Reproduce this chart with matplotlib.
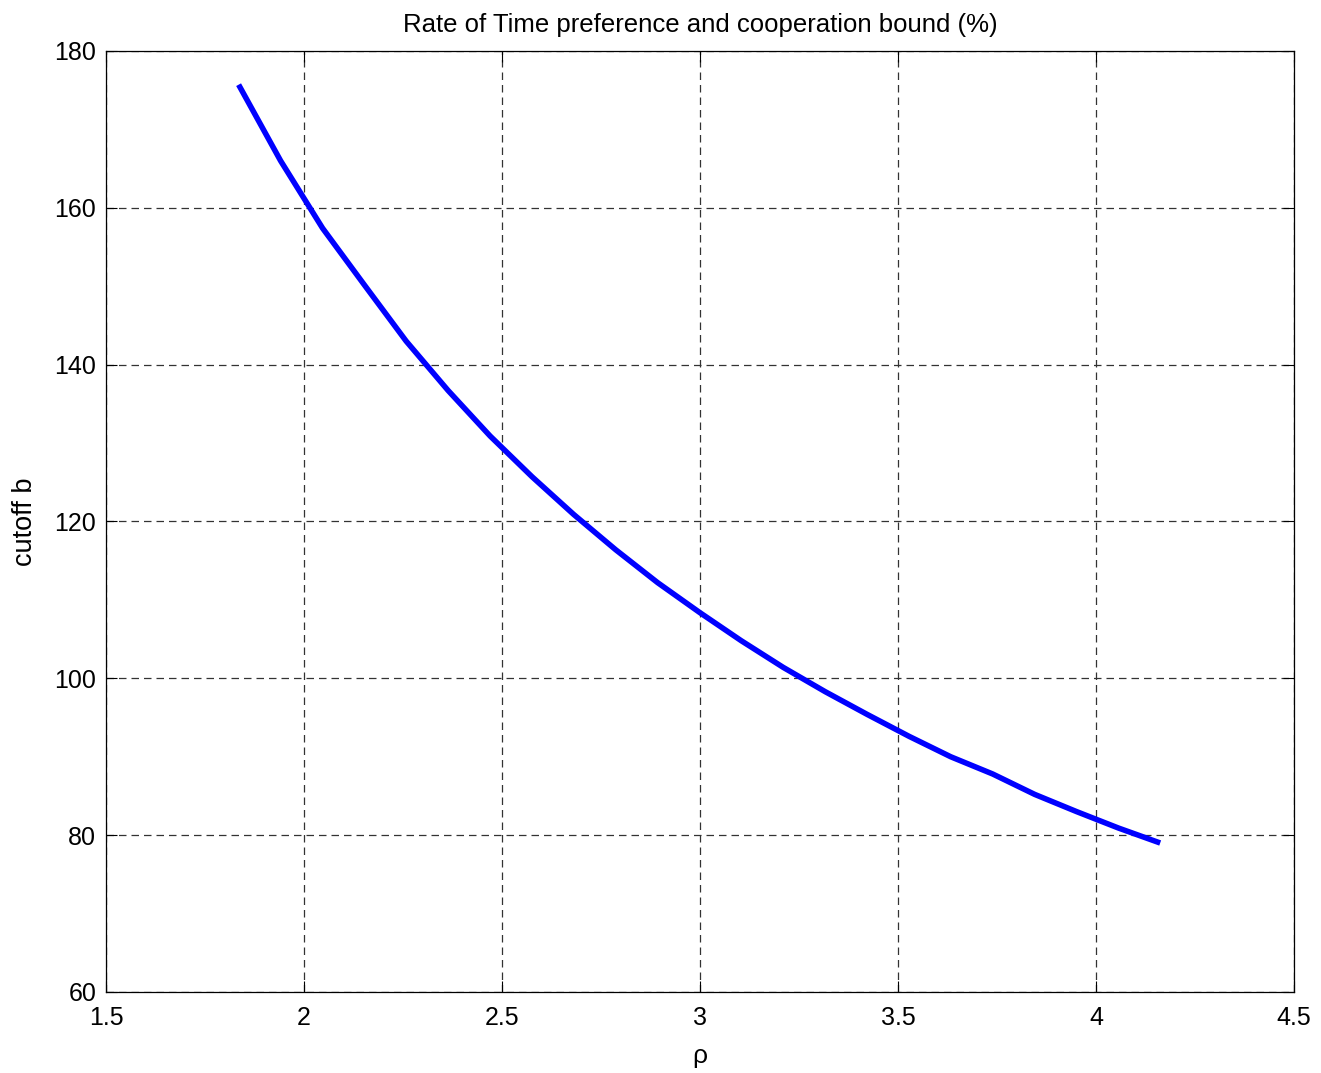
import numpy as np
import matplotlib
matplotlib.use("Agg")
import matplotlib.pyplot as plt

# values
rho = [1.835, 1.941, 2.047, 2.152, 2.258, 2.364, 2.470, 2.576, 2.681, 2.787,
       2.893, 2.999, 3.104, 3.210, 3.316, 3.422, 3.528, 3.633, 3.739, 3.845,
       3.951, 4.057, 4.162]
cutoff = [175.7, 166.0, 157.4, 150.2, 143.0, 136.7, 130.9, 125.7, 120.9, 116.4,
          112.2, 108.4, 104.8, 101.4, 98.3, 95.4, 92.6, 90.0, 87.8, 85.2,
          83.0, 80.9, 79.0]
xticks = [1.5, 2, 2.5, 3, 3.5, 4, 4.5]
yticks = [60, 80, 100, 120, 140, 160, 180]

plt.rcParams['font.family'] = ['Liberation Sans', 'DejaVu Sans']

fig = plt.figure(figsize=(13.21, 10.73), dpi=100)
ax = fig.add_axes([0.0802, 0.0755, 0.8994, 0.877])
ax.plot(rho, cutoff, color=(0, 0, 1), linewidth=4.0, solid_capstyle='butt')

ax.set_xlim(1.5, 4.5)
ax.set_ylim(60, 180)
ax.set_xticks(xticks)
ax.set_xticklabels(['1.5', '2', '2.5', '3', '3.5', '4', '4.5'])
ax.set_yticks(yticks)
ax.grid(True, color='#333333', linestyle=(0, (6, 4)), linewidth=0.9)
ax.tick_params(direction='in', length=8, width=0.8, top=True, right=True,
               labelsize=18)
ax.tick_params(axis='x', pad=10)
ax.tick_params(axis='y', pad=7)
for s in ax.spines.values():
    s.set_linewidth(0.9)

ax.set_title('Rate of Time preference and cooperation bound (%)', fontsize=18.5, pad=14)
ax.set_xlabel('ρ', fontsize=19, labelpad=10)
ax.set_ylabel('cutoff b', fontsize=19.5, labelpad=12)

fig.savefig("out.png", dpi=100)
